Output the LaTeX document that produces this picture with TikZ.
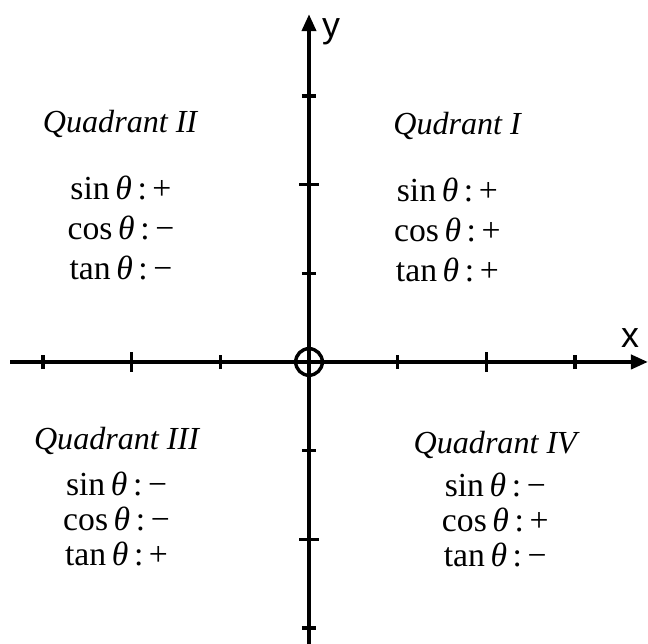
\documentclass[tikz,border=0pt]{standalone}
\usepackage{fontspec}
\setmainfont{Liberation Serif}
\setsansfont{Liberation Sans}
\usetikzlibrary{arrows.meta, positioning}

\begin{document}
\begin{tikzpicture}[>={Triangle[length=1.9mm, width=1.6mm]}, thick]

% --- Style Definitions ---
% Axes and ticks
\tikzstyle{axis_line}=[->, line width=1.1pt]
\tikzstyle{major_tick}=[line width=1.1pt]
\tikzstyle{minor_tick}=[line width=1.1pt]
\tikzstyle{origin_ring}=[circle, draw, line width=1.1pt, minimum size=0.3cm, inner sep=0pt]
\tikzstyle{axis_label}=[font=\sffamily\fontsize{11.5}{12}\selectfont]
% Quadrant texts
\tikzstyle{quad_title}=[font=\itshape\fontsize{10.3}{13}\selectfont]
\tikzstyle{sign_top}=[align=center, font=\fontsize{10.8}{12.8}\selectfont]
\tikzstyle{sign_bot}=[align=center, font=\fontsize{10.8}{11.3}\selectfont]

\useasboundingbox (-3.484,-3.179) rectangle (3.822,4.081);

% --- Axes ---
\coordinate (x_start) at (-3.37,0);
\coordinate (x_end) at (3.82,0);
\coordinate (y_start) at (0,-3.18);
\coordinate (y_end) at (0,3.92);
\draw[axis_line] (x_start) -- (x_end);
\draw[axis_line] (y_start) -- (y_end);

\node[axis_label] (x_lab) at (3.62,0.27) {x};
\node[axis_label] (y_lab) at (0.25,3.72) {y};

% ticks: long at +-2, short at +-1 and +-3
\foreach \t in {-3,-1,1,3} {
  \draw[minor_tick] (\t,-0.08) -- (\t,0.08);
  \draw[minor_tick] (-0.08,\t) -- (0.08,\t);
}
\foreach \t in {-2,2} {
  \draw[major_tick] (\t,-0.11) -- (\t,0.11);
  \draw[major_tick] (-0.11,\t) -- (0.11,\t);
}

% origin
\node[origin_ring] (O) at (0,0) {};

% --- Quadrant labels ---
\node[quad_title] (q1_title) at (1.67,2.66) {Qudrant I};
\node[quad_title] (q2_title) at (-2.13,2.68) {Quadrant II};
\node[quad_title] (q3_title) at (-2.17,-0.89) {Quadrant III};
\node[quad_title] (q4_title) at (2.10,-0.94) {Quadrant IV};

% --- Signs of sin, cos, tan ---
\node[sign_top] (q1_signs) at (1.56,1.49) {sin\,\textit{θ}\,:\,+\\cos\,\textit{θ}\,:\,+\\tan\,\textit{θ}\,:\,+};
\node[sign_top] (q2_signs) at (-2.12,1.51) {sin\,\textit{θ}\,:\,+\\cos\,\textit{θ}\,:\,−\\tan\,\textit{θ}\,:\,−};
\node[sign_bot] (q3_signs) at (-2.17,-1.77) {sin\,\textit{θ}\,:\,−\\cos\,\textit{θ}\,:\,−\\tan\,\textit{θ}\,:\,+};
\node[sign_bot] (q4_signs) at (2.10,-1.78) {sin\,\textit{θ}\,:\,−\\cos\,\textit{θ}\,:\,+\\tan\,\textit{θ}\,:\,−};

\end{tikzpicture}
\end{document}
